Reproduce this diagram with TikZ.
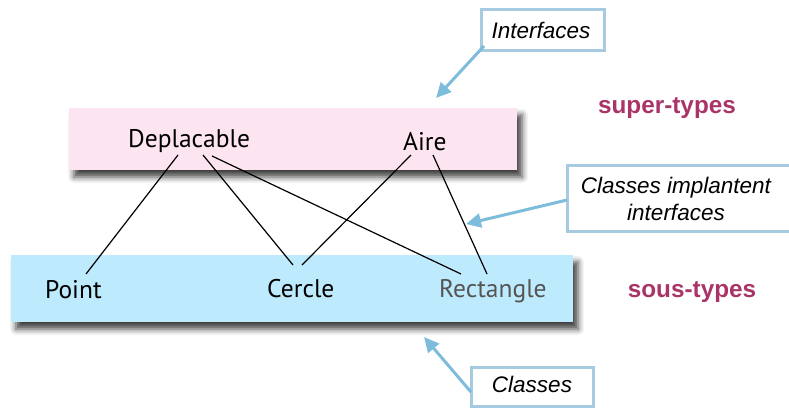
\documentclass[tikz,border=0pt]{standalone}
\usepackage{fontspec}
\setmainfont{Liberation Sans}
\newfontfamily\classfont{PT Sans}
\usetikzlibrary{arrows.meta,calc,shadows.blur}
\definecolor{supcol}{HTML}{A93468}
\definecolor{pinkfill}{HTML}{FCE4F0}
\definecolor{bluefill}{HTML}{BDEBFD}
\definecolor{labborder}{HTML}{A6CBE0}
\definecolor{arrcol}{HTML}{7DBCDA}
\definecolor{rectgray}{HTML}{555555}
\tikzset{
  layerbox/.style={draw=none, blur shadow={shadow xshift=5pt, shadow yshift=-7pt, shadow blur radius=6pt, shadow opacity=75}},
  typename/.style={inner sep=0pt, anchor=base west, font=\classfont\fontsize{25.5}{30}\selectfont},
  labelbox/.style={draw=labborder, line width=3pt, fill=white, inner sep=0pt},
  labeltext/.style={inner sep=0pt, font=\itshape\fontsize{22.5}{27}\selectfont},
  kindtext/.style={inner sep=0pt, text=supcol, font=\bfseries\fontsize{24.3}{28}\selectfont},
  pointer/.style={draw=arrcol, line width=3pt, -{Triangle[length=15pt,width=14pt]}},
  link/.style={draw=black, line width=1.2pt}
}
\begin{document}
\begin{tikzpicture}[x=1pt,y=-1pt]
\useasboundingbox (0,0) rectangle (789,408);
% layer boxes
\path[layerbox, fill=pinkfill] (69,108) rectangle (517,170);
\path[layerbox, fill=bluefill] (11,255) rectangle (573,322);
% type names
\node[typename] (dep) at (128,147) {Deplacable};
\node[typename] (aire) at (403,150) {Aire};
\node[typename] (pt) at (45,298) {Point};
\node[typename] (cer) at (267,297) {Cercle};
\node[typename, text=rectgray] (rect) at (439,297) {Rectangle};
% links
\draw[link] ($(dep.base west)+(50,8)$) -- ($(pt.base west)+(41,-24)$);
\draw[link] ($(dep.base west)+(75,8)$) -- ($(cer.base west)+(26,-32)$);
\draw[link] ($(dep.base west)+(84,9)$) -- ($(rect.base west)+(22,-23)$);
\draw[link] ($(aire.base west)+(8,5)$) -- ($(cer.base west)+(35,-32)$);
\draw[link] ($(aire.base west)+(30,5)$) -- ($(rect.base west)+(48,-23)$);
% kinds
\node[kindtext] (sup) at (667,108) {super-types};
\node[kindtext] (sous) at (692,292) {sous-types};
% labels
\path[labelbox] (481,9) rectangle (604,50);
\node[labeltext] (lint) at (541,30) {Interfaces};
\path[labelbox] (567,165) rectangle (795,231);
\node[labeltext, align=center] (limp) at (676,199) {Classes implantent\\interfaces};
\path[labelbox] (471,367) rectangle (593,406);
\node[labeltext] (lcl) at (532,384) {Classes};
% pointers
\coordinate (tint) at (436,98);
\coordinate (timp) at (466,224);
\coordinate (tcl) at (424,337);
\draw[pointer] (484,46) -- (tint);
\draw[pointer] (567,200) -- (timp);
\draw[pointer] (471,392) -- (tcl);
\end{tikzpicture}
\end{document}
